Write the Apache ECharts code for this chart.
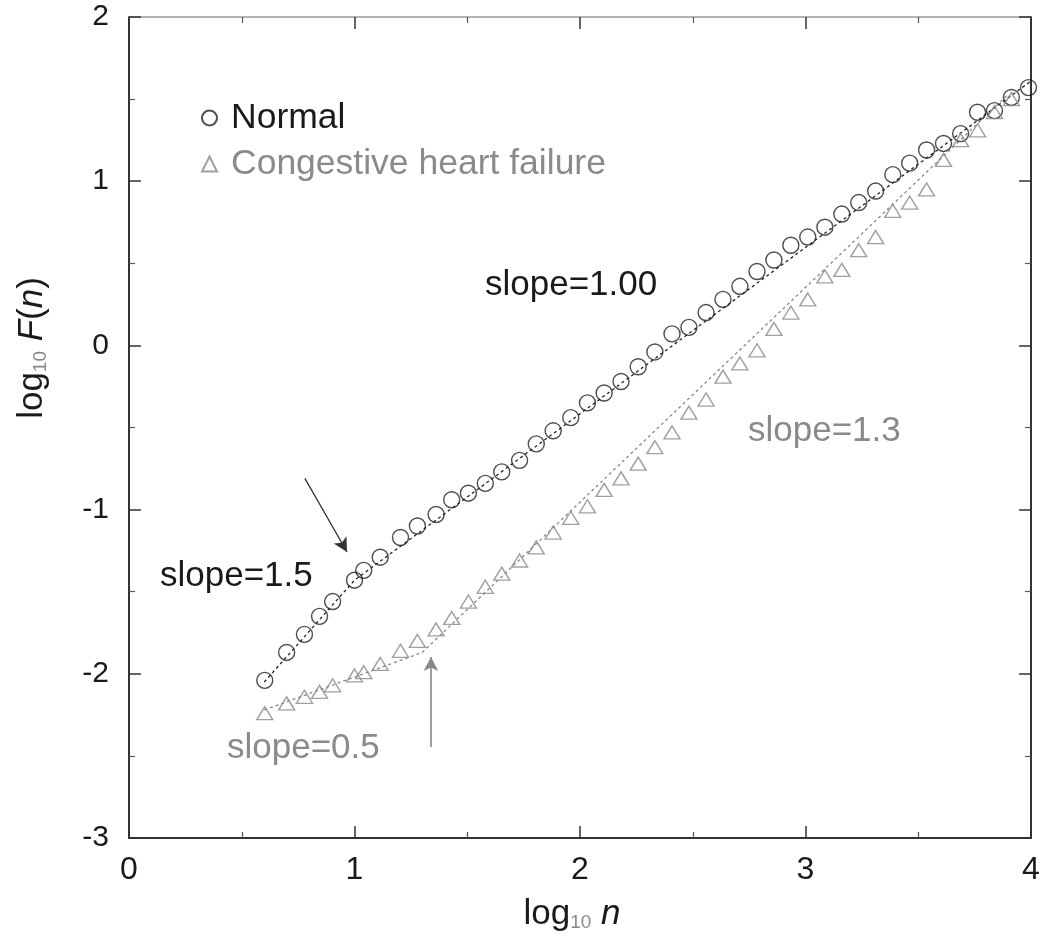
<!DOCTYPE html>
<html>
<head>
<meta charset="utf-8">
<script src="https://cdn.jsdelivr.net/npm/echarts@6/dist/echarts.min.js"></script>
<style>html,body{margin:0;padding:0;background:#fff}#c{width:1050px;height:942px}</style>
</head>
<body>
<div id="c"></div>
<script>
// log10 n (box sizes)
const logN = [0.602,0.699,0.778,0.845,0.903,1.000,1.041,1.114,1.204,1.279,1.362,1.431,1.505,1.580,1.653,1.732,1.806,1.881,1.959,2.033,2.107,2.182,2.258,2.332,2.408,2.483,2.559,2.634,2.709,2.785,2.860,2.935,3.010,3.086,3.161,3.236,3.311,3.387,3.462,3.537,3.612,3.688,3.763,3.838,3.913,3.989];
// log10 F(n), Normal
const normalF = [-2.04,-1.87,-1.76,-1.65,-1.56,-1.43,-1.37,-1.29,-1.17,-1.10,-1.03,-0.94,-0.90,-0.84,-0.77,-0.70,-0.60,-0.52,-0.44,-0.35,-0.29,-0.22,-0.13,-0.04,0.07,0.11,0.20,0.28,0.36,0.45,0.52,0.61,0.66,0.72,0.80,0.87,0.94,1.04,1.11,1.19,1.23,1.29,1.42,1.43,1.51,1.57];
// log10 F(n), Congestive heart failure
const chfF = [-2.24,-2.18,-2.14,-2.11,-2.07,-2.01,-1.99,-1.94,-1.86,-1.80,-1.73,-1.66,-1.56,-1.47,-1.39,-1.31,-1.23,-1.14,-1.05,-0.98,-0.88,-0.81,-0.72,-0.62,-0.53,-0.41,-0.33,-0.19,-0.11,-0.03,0.10,0.20,0.28,0.42,0.46,0.58,0.66,0.82,0.87,0.95,1.13,1.25,1.31,1.42,1.50];
// fitted lines (x, y endpoints)
const normalFitX = [0.6, 1.0, 4.0];
const normalFitY = [-2.05, -1.43, 1.61];
const chfFitX = [0.6, 1.3, 3.9];
const chfFitY = [-2.22, -1.87, 1.53];
// arrows [x0,y0,x1,y1]
const arrowNormal = [0.78, -0.81, 0.967, -1.258];
const arrowCHF = [1.339, -2.446, 1.339, -1.898];
const xTicks = [0, 1, 2, 3, 4];
const yTicks = [-3, -2, -1, 0, 1, 2];

const zip = (xs, ys) => ys.map((y, i) => [xs[i], y]);
const FONT = '"Liberation Sans", Arial, sans-serif';
const DARK = '#1a1a1a', GREY = '#8a8a8a';

const chart = echarts.init(document.getElementById('c'), null, {renderer: 'canvas'});

const baseAxis = {
  min: 0, max: 4, interval: 1, type: 'value',
  splitLine: {show: false},
  axisLine: {show: true, onZero: false, lineStyle: {color: '#333', width: 2}},
  axisTick: {show: true, inside: true, length: 12, lineStyle: {color: '#333', width: 1.5}},
  minorTick: {show: true, splitNumber: 2, length: 6, lineStyle: {color: '#555', width: 1.2}},
  minorSplitLine: {show: false}
};

chart.setOption({
  animation: false,
  backgroundColor: '#fff',
  grid: {left: 129, right: 19, top: 17, bottom: 104, containLabel: false},
  xAxis: [
    Object.assign({}, baseAxis, {
      position: 'bottom',
      axisLabel: {show: true, margin: 16, fontSize: 32, color: DARK, fontFamily: FONT,
        formatter: v => xTicks.includes(v) ? String(v) : ''},
      name: '{a|log}{b|10}{a| }{c|n}',
      nameLocation: 'middle', nameGap: 54,
      nameTextStyle: {padding: [0, 16, 0, 0], rich: {
        a: {fontSize: 35, fontFamily: FONT, color: DARK, verticalAlign: 'bottom', lineHeight: 40},
        b: {fontSize: 19, fontFamily: FONT, color: GREY, verticalAlign: 'bottom', lineHeight: 18},
        c: {fontSize: 35, fontFamily: FONT, color: DARK, fontStyle: 'italic', verticalAlign: 'bottom', lineHeight: 40}
      }}
    }),
    Object.assign({}, baseAxis, {
      position: 'top',
      axisLine: {show: true, onZero: false, lineStyle: {color: '#999', width: 1.5}},
      axisLabel: {show: false}
    })
  ],
  yAxis: [
    Object.assign({}, baseAxis, {
      min: -3, max: 2, interval: 1, position: 'left',
      axisLabel: {show: true, margin: 20, fontSize: 30, color: DARK, fontFamily: FONT,
        formatter: v => yTicks.includes(v) ? String(v) : ''}
    }),
    Object.assign({}, baseAxis, {
      min: -3, max: 2, interval: 1, position: 'right',
      axisLabel: {show: false}
    })
  ],
  legend: {
    orient: 'vertical', left: 196, top: 93,
    itemWidth: 15, itemHeight: 15, itemGap: 6,
    data: [
      {name: 'Normal', textStyle: {color: DARK}},
      {name: 'Congestive heart failure', textStyle: {color: GREY}}
    ],
    textStyle: {fontSize: 35.5, fontFamily: FONT, lineHeight: 40, padding: [0, 0, 0, 9]}
  },
  series: [
    {
      name: 'normalFit', type: 'line', data: zip(normalFitX, normalFitY),
      symbol: 'none', z: 1, silent: true,
      lineStyle: {color: '#222', width: 1.3, type: [3, 3]},
      markLine: {
        silent: true, symbol: ['none', 'arrow'], symbolSize: [11, 14],
        label: {show: false},
        lineStyle: {color: '#333', width: 1.3, type: 'solid'},
        data: [[{coord: [arrowNormal[0], arrowNormal[1]]}, {coord: [arrowNormal[2], arrowNormal[3]]}]]
      }
    },
    {
      name: 'chfFit', type: 'line', data: zip(chfFitX, chfFitY),
      symbol: 'none', z: 1, silent: true,
      lineStyle: {color: '#888', width: 1.3, type: [3, 3]},
      markLine: {
        silent: true, symbol: ['none', 'arrow'], symbolSize: [11, 14],
        label: {show: false},
        lineStyle: {color: '#888', width: 1.6, type: 'solid'},
        data: [[{coord: [arrowCHF[0], arrowCHF[1]]}, {coord: [arrowCHF[2], arrowCHF[3]]}]]
      }
    },
    {
      name: 'Normal', type: 'scatter', data: zip(logN, normalF),
      symbol: 'circle', symbolSize: 16, z: 3,
      itemStyle: {color: 'rgba(255,255,255,0)', borderColor: '#222', borderWidth: 1.4}
    },
    {
      name: 'Congestive heart failure', type: 'scatter', data: zip(logN, chfF),
      symbol: 'triangle', symbolSize: [16, 13], z: 3,
      itemStyle: {color: 'rgba(255,255,255,0)', borderColor: '#888', borderWidth: 1.4}
    }
  ],
  graphic: [
    {type: 'text', x: 30, y: 348, rotation: Math.PI / 2,
      style: {text: '{a|log}{b|10}{a| }{c|F}{a|(}{c|n}{a|)}', align: 'center', verticalAlign: 'middle',
        rich: {
          a: {fontSize: 35, fontFamily: FONT, fill: DARK, verticalAlign: 'bottom', lineHeight: 40},
          b: {fontSize: 19, fontFamily: FONT, fill: GREY, verticalAlign: 'bottom', lineHeight: 18},
          c: {fontSize: 35, fontFamily: FONT, fill: DARK, fontStyle: 'italic', verticalAlign: 'bottom', lineHeight: 40}
        }}},
    {type: 'text', x: 485, y: 285, style: {text: 'slope=1.00', fontSize: 35, fontFamily: FONT, fill: DARK, verticalAlign: 'middle'}},
    {type: 'text', x: 160, y: 576, style: {text: 'slope=1.5', fontSize: 35, fontFamily: FONT, fill: DARK, verticalAlign: 'middle'}},
    {type: 'text', x: 227, y: 748, style: {text: 'slope=0.5', fontSize: 35, fontFamily: FONT, fill: GREY, verticalAlign: 'middle'}},
    {type: 'text', x: 748, y: 431, style: {text: 'slope=1.3', fontSize: 35, fontFamily: FONT, fill: GREY, verticalAlign: 'middle'}}
  ]
});
</script>
</body>
</html>
